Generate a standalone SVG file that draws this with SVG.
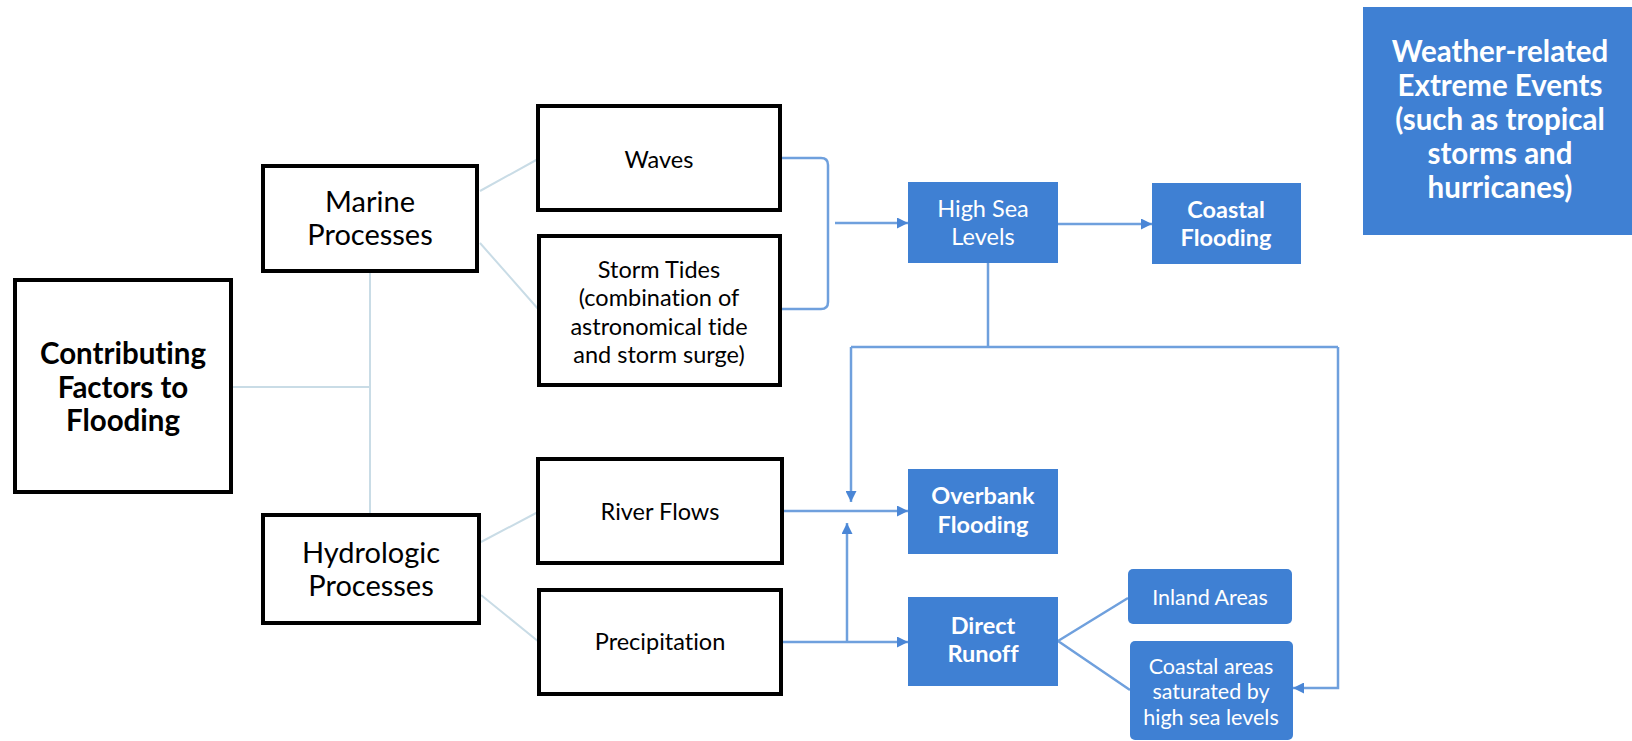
<svg xmlns="http://www.w3.org/2000/svg" width="1632" height="741" viewBox="0 0 1632 741">
<style>
text{font-family:Lato,"Liberation Sans",sans-serif;text-anchor:middle;font-variant-ligatures:none;font-feature-settings:"liga" 0,"dlig" 0}
.bk{fill:#fff;stroke:#000;stroke-width:4}
.bl{fill:#3f80d3}
.t{fill:#000}
.w{fill:#fff}
.b{font-weight:bold}
.g{stroke:#c9dce6;stroke-width:2;fill:none}
.c{stroke:#6fa0dd;stroke-width:2.5;fill:none}
.a{marker-end:url(#ah)}
.s1{font-size:29.5px}
.s2{font-size:29px}
.s3{font-size:23.5px}
.s4{font-size:21.5px}
</style>
<defs>
<marker id="ah" viewBox="0 0 10 10" refX="10" refY="5" markerWidth="11" markerHeight="11" markerUnits="userSpaceOnUse" orient="auto">
<path d="M0,0 L10,5 L0,10 z" fill="#4a86d6"/>
</marker>
</defs>
<g id="connectors">
<path class="g" d="M231 387 H370 M370 270 V514 M480 191 L538 159 M480 243 L539 310 M481 542 L538 512 M481 595 L539 642"/>
<path class="c" d="M780 158 H821 Q828 158 828 165 V302 Q828 309 821 309 H780"/>
<path class="c a" d="M835 223 H908"/>
<path class="c a" d="M1058 224 H1152"/>
<path class="c" d="M988 263 V347 M851 347 H1338"/>
<path class="c a" d="M851 347 V502"/>
<path class="c a" d="M1338 347 V688 H1293"/>
<path class="c a" d="M783 511 H908"/>
<path class="c a" d="M782 642 H908"/>
<path class="c a" d="M847 642 V523"/>
<path class="c" d="M1058 641 L1128 598 M1058 641 L1130 690"/>
</g>
<g id="contributing">
<rect class="bk" x="15" y="280" width="216" height="212"/>
<text class="t b s1" x="123" y="363.5">Contributing</text>
<text class="t b s1" x="123" y="397.5">Factors to</text>
<text class="t b s1" x="123" y="431">Flooding</text>
</g>
<g id="marine">
<rect class="bk" x="263" y="166" width="214" height="105"/>
<text class="t s2" x="370" y="212">Marine</text>
<text class="t s2" x="370" y="245">Processes</text>
</g>
<g id="hydrologic">
<rect class="bk" x="263" y="515" width="216" height="108"/>
<text class="t s2" x="371" y="563">Hydrologic</text>
<text class="t s2" x="371" y="596">Processes</text>
</g>
<g id="waves">
<rect class="bk" x="538" y="106" width="242" height="104"/>
<text class="t s3" x="659" y="167.5">Waves</text>
</g>
<g id="storm">
<rect class="bk" x="539" y="236" width="241" height="149"/>
<text class="t s3" x="659" y="278">Storm Tides</text>
<text class="t s3" x="659" y="306">(combination of</text>
<text class="t s3" x="659" y="335">astronomical tide</text>
<text class="t s3" x="659" y="363">and storm surge)</text>
</g>
<g id="river">
<rect class="bk" x="538" y="459" width="244" height="104"/>
<text class="t s3" x="660" y="520">River Flows</text>
</g>
<g id="precipitation">
<rect class="bk" x="539" y="590" width="242" height="104"/>
<text class="t s3" x="660" y="650">Precipitation</text>
</g>
<g id="highsea">
<rect class="bl" x="908" y="182" width="150" height="81"/>
<text class="w s3" x="983" y="217">High Sea</text>
<text class="w s3" x="983" y="245">Levels</text>
</g>
<g id="coastal">
<rect class="bl" x="1152" y="183" width="149" height="81"/>
<text class="w b s3" x="1226" y="218">Coastal</text>
<text class="w b s3" x="1226" y="246">Flooding</text>
</g>
<g id="overbank">
<rect class="bl" x="908" y="469" width="150" height="85"/>
<text class="w b s3" x="983" y="504">Overbank</text>
<text class="w b s3" x="983" y="533">Flooding</text>
</g>
<g id="runoff">
<rect class="bl" x="908" y="597" width="150" height="89"/>
<text class="w b s3" x="983" y="634">Direct</text>
<text class="w b s3" x="983" y="662">Runoff</text>
</g>
<g id="inland">
<rect class="bl" x="1128" y="569" width="164" height="55" rx="5"/>
<text class="w s4" x="1210" y="605">Inland Areas</text>
</g>
<g id="coastalareas">
<rect class="bl" x="1130" y="641" width="163" height="99" rx="5"/>
<text class="w s4" x="1211" y="674">Coastal areas</text>
<text class="w s4" x="1211" y="699">saturated by</text>
<text class="w s4" x="1211" y="725">high sea levels</text>
</g>
<g id="weather">
<rect class="bl" x="1363" y="7" width="275" height="228"/>
<text class="w b s1" x="1500" y="62">Weather-related</text>
<text class="w b s1" x="1500" y="96">Extreme Events</text>
<text class="w b s1" x="1500" y="130">(such as tropical</text>
<text class="w b s1" x="1500" y="164">storms and</text>
<text class="w b s1" x="1500" y="198">hurricanes)</text>
</g>
</svg>
